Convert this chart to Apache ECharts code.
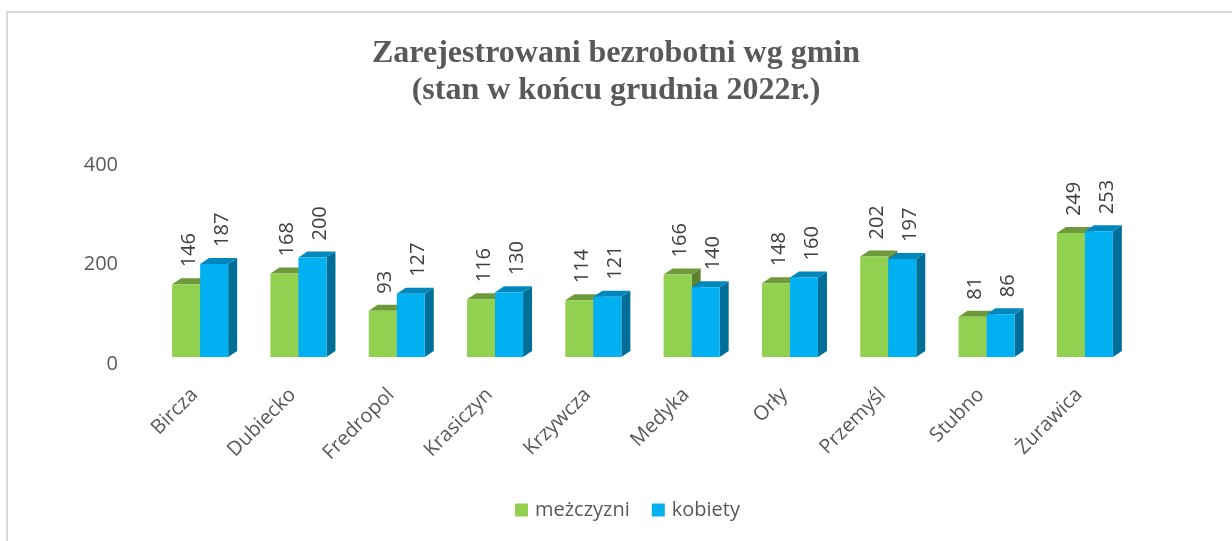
<!DOCTYPE html>
<html>
<head>
<meta charset="utf-8">
<title>Zarejestrowani bezrobotni wg gmin</title>
<script src="https://cdn.jsdelivr.net/npm/echarts@6/dist/echarts.min.js"></script>
<style>
  html, body {margin: 0; padding: 0; background: #fff;}
  #chart {width: 1232px; height: 541px;}
</style>
</head>
<body>
<div id="chart"></div>
<script>
var categories = ['Bircza', 'Dubiecko', 'Fredropol', 'Krasiczyn', 'Krzywcza', 'Medyka', 'Orły', 'Przemyśl', 'Stubno', 'Żurawica'];
var men = [146, 168, 93, 116, 114, 166, 148, 202, 81, 249];
var women = [187, 200, 127, 130, 121, 140, 160, 197, 86, 253];
var seriesNames = ['meżczyzni', 'kobiety'];
var yTicks = [0, 200, 400];

var textColor = '#595959';
var font = '"Open Sans", "Noto Sans", sans-serif';

// front / top / side colours for the 3D look
var palette = [
  {front: '#92D050', top: '#6E9A3B', side: '#5C822F'},
  {front: '#00B0F0', top: '#0088BE', side: '#006F98'}
];

var DEPTH_X = 9, DEPTH_Y = -6, LIFT = 7;

function makeRenderer(slot) {
  return function (params, api) {
    var idx = api.value(0);
    var val = api.value(1);
    var band = api.size([1, 0])[0];
    var barW = band * 0.285;
    var c = api.coord([idx, 0]);
    var t = api.coord([idx, val]);
    var base = c[1] - LIFT;
    var top = t[1] - LIFT;
    var x0 = slot === 0 ? c[0] - barW : c[0];
    var x1 = x0 + barW;
    var col = palette[slot];
    var labelX = slot === 0 ? (x0 + x1) / 2 + 3 : (x0 + x1) / 2 + 8;
    return {
      type: 'group',
      children: [
        {
          type: 'polygon',
          shape: {points: [[x1, base], [x1 + DEPTH_X, base + DEPTH_Y], [x1 + DEPTH_X, top + DEPTH_Y], [x1, top]]},
          style: {fill: col.side}
        },
        {
          type: 'polygon',
          shape: {points: [[x0, top], [x1, top], [x1 + DEPTH_X, top + DEPTH_Y], [x0 + DEPTH_X, top + DEPTH_Y]]},
          style: {fill: col.top}
        },
        {
          type: 'rect',
          shape: {x: x0, y: top, width: barW, height: base - top},
          style: {fill: col.front}
        },
        {
          type: 'text',
          x: labelX,
          y: top - 17,
          rotation: Math.PI / 2,
          style: {
            text: String(val),
            fill: '#404040',
            font: '20px ' + font,
            align: 'left',
            verticalAlign: 'middle'
          }
        }
      ]
    };
  };
}

function toData(arr) {
  return arr.map(function (v, i) { return [i, v]; });
}

var chart = echarts.init(document.getElementById('chart'));

chart.setOption({
  backgroundColor: '#ffffff',
  animation: false,
  title: {
    text: 'Zarejestrowani bezrobotni wg gmin\n(stan w końcu grudnia 2022r.)',
    left: 'center',
    top: 30,
    padding: [5, 0, 5, 16],
    textStyle: {
      fontFamily: '"Liberation Serif", "Times New Roman", serif',
      fontWeight: 'bold',
      fontSize: 32,
      lineHeight: 37,
      color: textColor
    }
  },
  legend: {
    data: seriesNames,
    bottom: 16,
    left: 510,
    icon: 'rect',
    itemWidth: 13,
    itemHeight: 13,
    itemGap: 22,
    textStyle: {color: textColor, fontSize: 20, fontFamily: font, padding: [0, 0, 0, 2]}
  },
  graphic: [{
    type: 'rect',
    shape: {x: 7, y: 12, width: 1300, height: 600},
    style: {fill: 'none', stroke: '#D9D9D9', lineWidth: 2},
    silent: true
  }],
  grid: {left: 151, right: 98, top: 165, bottom: 177},
  xAxis: {
    type: 'category',
    data: categories,
    boundaryGap: true,
    axisLine: {show: false},
    axisTick: {show: false},
    axisLabel: {
      rotate: 45,
      interval: 0,
      margin: 22,
      padding: [0, 8, 0, 0],
      color: textColor,
      fontSize: 20,
      fontFamily: font
    }
  },
  yAxis: {
    type: 'value',
    min: yTicks[0],
    max: yTicks[yTicks.length - 1],
    interval: yTicks[1] - yTicks[0],
    splitLine: {show: false},
    axisLine: {show: false},
    axisTick: {show: false},
    axisLabel: {margin: 33, color: textColor, fontSize: 20, fontFamily: font}
  },
  series: [
    {
      name: seriesNames[0],
      type: 'custom',
      renderItem: makeRenderer(0),
      itemStyle: {color: palette[0].front},
      encode: {x: 0, y: 1},
      data: toData(men)
    },
    {
      name: seriesNames[1],
      type: 'custom',
      renderItem: makeRenderer(1),
      itemStyle: {color: palette[1].front},
      encode: {x: 0, y: 1},
      data: toData(women)
    }
  ]
});

window.addEventListener('resize', function () {
  chart.resize();
});
</script>
</body>
</html>
